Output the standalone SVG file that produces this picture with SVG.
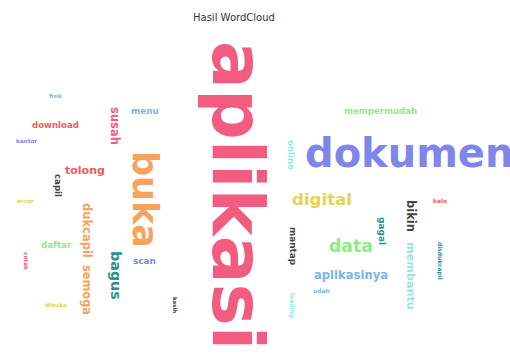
<svg xmlns="http://www.w3.org/2000/svg" width="510" height="359" viewBox="0 0 510 359">
<style>
.w{font-family:"DejaVu Sans",Verdana,sans-serif;font-weight:bold}
.t{font-family:"DejaVu Sans",Verdana,sans-serif;font-size:10px;fill:#333333}
.c1{fill:#7cb5ec}.c2{fill:#434348}.c3{fill:#90ed7d}.c4{fill:#f7a35c}.c5{fill:#8085e9}
.c6{fill:#f15c80}.c7{fill:#e4d354}.c8{fill:#2b908f}.c9{fill:#f45b5b}.c10{fill:#91e8e1}
</style>
<rect width="510" height="359" fill="#ffffff"/>
<text class="t" x="193" y="21">Hasil WordCloud</text>
<g id="cloud">
<text class="w c6" font-size="71" transform="translate(213,41) rotate(90)">aplikasi</text>
<text class="w c5" font-size="40" x="305" y="167">dokumen</text>
<text class="w c4" font-size="35" transform="translate(133,151) rotate(90)">buka</text>
<text class="w c6" font-size="11.5" transform="translate(111,107) rotate(90)">susah</text>
<text class="w c1" font-size="8.8" x="131" y="114">menu</text>
<text class="w c9" font-size="8.6" x="32" y="128">download</text>
<text class="w c1" font-size="5.5" x="49" y="97.5">fisik</text>
<text class="w c5" font-size="5.7" x="16" y="143">kantor</text>
<text class="w c9" font-size="11" x="65" y="173.5">tolong</text>
<text class="w c2" font-size="8.6" transform="translate(55,174) rotate(90)">capil</text>
<text class="w c7" font-size="6" x="17" y="203">error</text>
<text class="w c6" font-size="5.8" transform="translate(24,252) rotate(90)">cetak</text>
<text class="w c4" font-size="11.5" transform="translate(83,203) rotate(90)">dukcapil</text>
<text class="w c4" font-size="11.4" transform="translate(83,265) rotate(90)">semoga</text>
<text class="w c3" font-size="8.7" x="41" y="248">daftar</text>
<text class="w c8" font-size="14.3" transform="translate(111,251) rotate(90)">bagus</text>
<text class="w c5" font-size="8.9" x="133" y="263.5">scan</text>
<text class="w c7" font-size="5.7" x="45" y="307">dibuka</text>
<text class="w c2" font-size="5.4" transform="translate(173,297) rotate(90)">kasih</text>
<text class="w c3" font-size="8.6" x="344" y="113.5">mempermudah</text>
<text class="w c10" font-size="8.6" transform="translate(288,140) rotate(90)">online</text>
<text class="w c7" font-size="16.6" x="292" y="205">digital</text>
<text class="w c9" font-size="5.9" x="433" y="203">kalo</text>
<text class="w c2" font-size="11.5" transform="translate(407,200) rotate(90)">bikin</text>
<text class="w c8" font-size="9" transform="translate(379,217) rotate(90)">gagal</text>
<text class="w c2" font-size="8.9" transform="translate(290,227) rotate(90)">mantap</text>
<text class="w c3" font-size="17.3" x="329" y="251.5">data</text>
<text class="w c10" font-size="11.2" transform="translate(407,242) rotate(90)">membantu</text>
<text class="w c8" font-size="5.9" transform="translate(438,242) rotate(90)">disdukcapil</text>
<text class="w c1" font-size="11.6" x="314" y="279">aplikasinya</text>
<text class="w c1" font-size="6" x="313" y="292.5">udah</text>
<text class="w c10" font-size="6" transform="translate(290,293) rotate(90)">loading</text>
</g>
</svg>
